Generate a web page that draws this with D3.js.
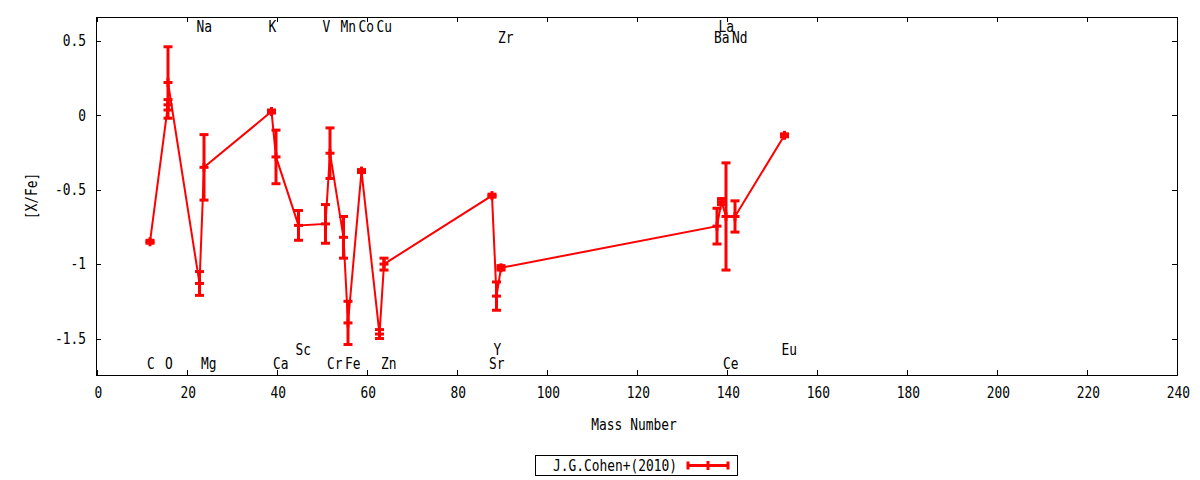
<!DOCTYPE html>
<html>
<head>
<meta charset="utf-8">
<script src="https://cdn.jsdelivr.net/npm/d3@7"></script>
<style>
  body { margin: 0; background: #fff; }
  text { font-family: "DejaVu Sans Mono", monospace; font-size: 15px; fill: #000; }
</style>
</head>
<body>
<svg width="1200" height="480"></svg>
<script>
// abundances, in plot order
const elements = ['C', 'O', 'O', 'Na', 'Mg', 'K', 'Ca', 'Sc', 'V', 'Cr', 'Mn', 'Fe', 'Co', 'Cu', 'Zn', 'Sr', 'Y', 'Zr', 'Ba', 'La', 'Ce', 'Nd', 'Eu']
const massNumber = [12, 16, 16, 23, 24, 39, 40, 45, 51, 52, 55, 56, 59, 63, 64, 88, 89, 90, 138, 139, 140, 142, 153]
const xFe = [-0.85, 0.07, 0.22, -1.13, -0.35, 0.025, -0.28, -0.74, -0.73, -0.255, -0.82, -1.395, -0.375, -1.47, -1.0, -0.54, -1.215, -1.025, -0.745, -0.58, -0.68, -0.68, -0.135]
const xFeErr = [0.01, 0.035, 0.24, 0.08, 0.22, 0.01, 0.18, 0.1, 0.13, 0.17, 0.14, 0.145, 0.01, 0.03, 0.04, 0.01, 0.095, 0.015, 0.12, 0.02, 0.36, 0.105, 0.01]

// element name labels
const labelText = ['Na', 'K', 'V', 'Mn', 'Co', 'Cu', 'La', 'Zr', 'Ba', 'Nd', 'Sc', 'Y', 'Eu', 'C', 'O', 'Mg', 'Ca', 'Cr', 'Fe', 'Zn', 'Sr', 'Ce']
const labelMass = [23, 39, 51, 55, 59, 63, 139, 90, 138, 142, 45, 89, 153, 12, 16, 24, 40, 52, 56, 64, 88, 140]
const labelLevel = [0.594, 0.594, 0.594, 0.594, 0.594, 0.594, 0.594, 0.52, 0.52, 0.52, -1.574, -1.574, -1.574, -1.668, -1.668, -1.668, -1.668, -1.668, -1.668, -1.668, -1.668, -1.668]

const xTicks = d3.range(0, 241, 20)
const yTicks = [-1.5, -1, -0.5, 0, 0.5]
const seriesName = 'J.G.Cohen+(2010)'

const width = 1200, height = 480
const pLeft = 96, pRight = 1176, pTop = 17, pBottom = 375
const red = '#ff0000'
const sx = 0.86 // gnuplot's font is narrower

const svg = d3.select('svg')
svg.append('rect').attr('width', width).attr('height', height).attr('fill', '#fff')

const x = d3.scaleLinear().domain([0, 240]).range([pLeft, pRight])
const y = d3.scaleLinear().domain([-1.745, 0.66]).range([pBottom, pTop])

// axes
const fmt = d => String(d)
const gx = svg.append('g')
  .attr('transform', 'translate(0.5,' + pBottom + ')')
  .call(d3.axisBottom(x).tickValues(xTicks).tickSize(-5).tickPadding(12).tickFormat(fmt))
svg.append('g')
  .attr('transform', 'translate(0.5,' + pTop + ')')
  .call(d3.axisTop(x).tickValues(xTicks).tickSize(-5).tickFormat(''))
const gy = svg.append('g')
  .attr('transform', 'translate(' + pLeft + ',0)')
  .call(d3.axisLeft(y).tickValues(yTicks).tickSize(-5).tickPadding(11).tickFormat(fmt))
svg.append('g')
  .attr('transform', 'translate(' + (pRight + 1) + ',0)')
  .call(d3.axisRight(y).tickValues(yTicks).tickSize(-5).tickFormat(''))

svg.selectAll('.domain').remove()
svg.selectAll('.tick line').attr('stroke', '#000').attr('shape-rendering', 'crispEdges')
svg.selectAll('.tick text').attr('font-family', null).attr('font-size', null).attr('fill', '#000')
gx.selectAll('.tick text').attr('transform', 'scale(' + sx + ',1)').attr('x', 1.5)
gy.selectAll('.tick text').attr('transform', 'scale(' + sx + ',1)').attr('x', -10 / sx)

svg.append('rect')
  .attr('x', pLeft + 0.5).attr('y', pTop + 0.5)
  .attr('width', pRight - pLeft + 1).attr('height', pBottom - pTop)
  .attr('fill', 'none').attr('stroke', '#000').attr('shape-rendering', 'crispEdges')

// axis titles
svg.append('text')
  .attr('text-anchor', 'middle')
  .attr('transform', 'translate(' + ((pLeft + pRight) / 2 - 2) + ',430) scale(' + sx + ',1)')
  .text('Mass Number')
svg.append('text')
  .attr('text-anchor', 'middle')
  .attr('transform', 'translate(37,' + (pTop + pBottom) / 2 + ') rotate(-90) scale(' + sx + ',1)')
  .text('[X/Fe]')

// element labels
const labels = labelText.map((t, i) => ({ t: t, m: labelMass[i], v: labelLevel[i] }))
svg.append('g').selectAll('text')
  .data(labels)
  .join('text')
  .attr('transform', d => 'translate(' + (x(d.m) - 3) + ',' + (y(d.v) + 5) + ') scale(' + sx + ',1)')
  .text(d => d.t)

// series
const pts = elements.map((e, i) => ({ el: e, m: massNumber[i], v: xFe[i], e: xFeErr[i] }))
const plot = svg.append('g')

plot.append('path')
  .datum(pts)
  .attr('fill', 'none')
  .attr('stroke', red)
  .attr('stroke-width', 2)
  .attr('d', d3.line().x(d => x(d.m)).y(d => y(d.v)))

const bars = plot.selectAll('g.bar')
  .data(pts)
  .join('g')
  .attr('class', 'bar')
  .attr('stroke', red)
  .attr('stroke-width', 3)

bars.append('line')
  .attr('x1', d => x(d.m)).attr('x2', d => x(d.m))
  .attr('y1', d => y(d.v + d.e)).attr('y2', d => y(d.v - d.e))
bars.append('line')
  .attr('x1', d => x(d.m) - 4.5).attr('x2', d => x(d.m) + 4.5)
  .attr('y1', d => y(d.v + d.e)).attr('y2', d => y(d.v + d.e))
bars.append('line')
  .attr('x1', d => x(d.m) - 4.5).attr('x2', d => x(d.m) + 4.5)
  .attr('y1', d => y(d.v - d.e)).attr('y2', d => y(d.v - d.e))
// point marker (+)
bars.append('line')
  .attr('x1', d => x(d.m) - 4.5).attr('x2', d => x(d.m) + 4.5)
  .attr('y1', d => y(d.v)).attr('y2', d => y(d.v))
bars.append('line')
  .attr('x1', d => x(d.m)).attr('x2', d => x(d.m))
  .attr('y1', d => y(d.v) - 4.5).attr('y2', d => y(d.v) + 4.5)

// legend
const lg = svg.append('g').attr('transform', 'translate(535,455)')
lg.append('rect')
  .attr('x', 0.5).attr('y', 0.5).attr('width', 202).attr('height', 20)
  .attr('fill', '#fff').attr('stroke', '#000').attr('shape-rendering', 'crispEdges')
lg.append('text')
  .attr('text-anchor', 'end')
  .attr('transform', 'translate(142,15.5) scale(' + sx + ',1)')
  .text(seriesName)
const ls = lg.append('g').attr('stroke', red).attr('stroke-width', 3)
ls.append('line').attr('x1', 152).attr('x2', 194).attr('y1', 10.5).attr('y2', 10.5)
ls.append('line').attr('x1', 153).attr('x2', 153).attr('y1', 6.5).attr('y2', 14.5)
ls.append('line').attr('x1', 193).attr('x2', 193).attr('y1', 6.5).attr('y2', 14.5)
ls.append('line').attr('x1', 173).attr('x2', 173).attr('y1', 6).attr('y2', 15)
</script>
</body>
</html>
